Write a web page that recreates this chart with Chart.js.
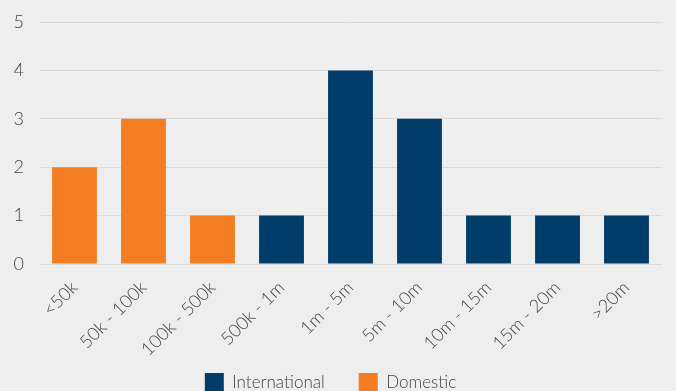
<!DOCTYPE html>
<html>
<head>
<meta charset="utf-8">
<script src="https://cdn.jsdelivr.net/npm/chart.js@4/dist/chart.umd.min.js"></script>
<style>
  html, body { margin: 0; padding: 0; background: #eeeeee; overflow: hidden; }
  #wrap { width: 676px; height: 402px; position: relative; }
</style>
</head>
<body>
<div id="wrap"><canvas id="chart"></canvas></div>
<script>
const categories = ['<50k', '50k - 100k', '100k - 500k', '500k - 1m', '1m - 5m', '5m - 10m', '10m - 15m', '15m - 20m', '>20m'];
const international = [null, null, null, 1, 4, 3, 1, 1, 1];
const domestic = [2, 3, 1, null, null, null, null, null, null];
const yTicks = [0, 1, 2, 3, 4, 5];

const navy = '#003d6b';
const orange = '#f47c23';
const textColor = '#444444';

new Chart(document.getElementById('chart').getContext('2d'), {
  type: 'bar',
  data: {
    labels: categories,
    datasets: [
      { label: 'International', data: international, backgroundColor: navy },
      { label: 'Domestic', data: domestic, backgroundColor: orange }
    ]
  },
  options: {
    responsive: true,
    maintainAspectRatio: false,
    animation: false,
    categoryPercentage: 0.65,
    barPercentage: 1,
    layout: { padding: { left: 0, right: 15, top: 22, bottom: 0 } },
    plugins: {
      tooltip: { enabled: false },
      legend: {
        position: 'bottom',
        labels: {
          color: textColor,
          boxWidth: 19,
          boxHeight: 19,
          padding: 34,
          font: { family: 'Lato', size: 17, weight: '300' }
        }
      }
    },
    scales: {
      x: {
        stacked: true,
        grid: { display: false },
        border: { color: '#d9d9d9' },
        ticks: {
          color: textColor,
          maxRotation: 45,
          minRotation: 45,
          padding: 5,
          font: { family: 'Lato', size: 18, weight: '300' }
        },
        afterFit: s => {
          s.paddingLeft = 0;
          s.paddingRight = 0;
          s.height = 75;
          // let the rotated labels run past the short axis box
          s._computeLabelArea = () => undefined;
        }
      },
      y: {
        stacked: true,
        min: 0,
        max: 5,
        afterBuildTicks: axis => { axis.ticks = yTicks.map(v => ({ value: v })); },
        grid: { color: '#d9d9d9', drawTicks: false },
        border: { display: false },
        ticks: {
          color: textColor,
          padding: 16,
          font: { family: 'Lato', size: 18, weight: '300' }
        },
        afterFit: s => { s.width = 40; s.paddingTop = 0; s.paddingBottom = 0; }
      }
    }
  }
});
</script>
</body>
</html>
